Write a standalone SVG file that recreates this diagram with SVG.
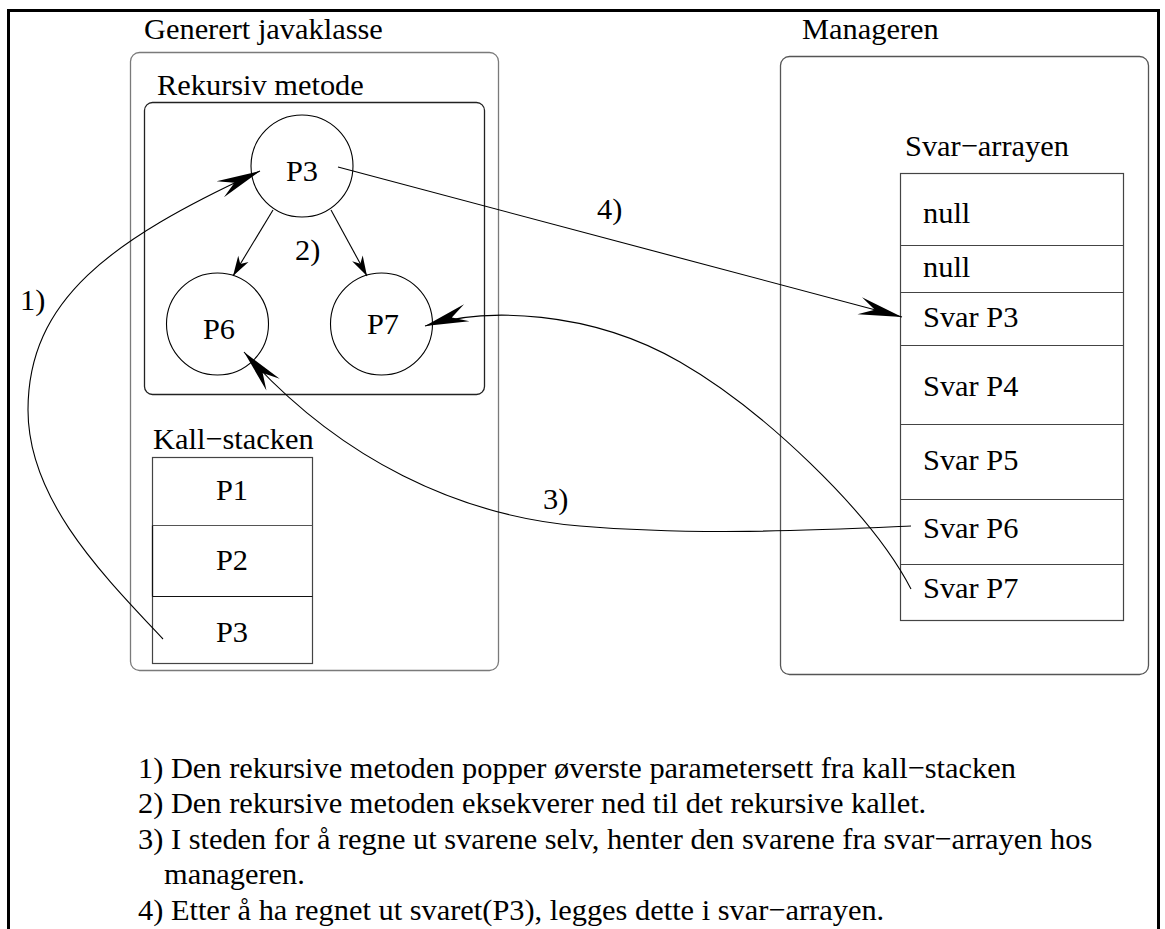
<svg xmlns="http://www.w3.org/2000/svg" width="1165" height="929" viewBox="0 0 1165 929" font-family="'Liberation Serif', 'Times New Roman', 'DejaVu Serif', serif">
  <style>
    text { font-family: 'Liberation Serif', 'Times New Roman', 'DejaVu Serif', serif; font-size: 30.4px; fill: #000; }
    .mid { text-anchor: middle; }
    .box { fill: none; stroke-width: 1.3; }
    .cell { fill: none; stroke: #444; stroke-width: 1.2; }
    .node { fill: #fff; stroke: #000; stroke-width: 1.1; }
    .link { fill: none; stroke: #000; stroke-width: 1.1; }
  </style>
  <defs>
    <marker id="dart" markerUnits="userSpaceOnUse" markerWidth="50" markerHeight="30" viewBox="-44 -12 48 24" refX="0" refY="0" orient="auto">
      <path d="M0,0 L-42,-8.5 L-27,0 L-42,8.5 Z" fill="#000"/>
    </marker>
    <marker id="dart-small" markerUnits="userSpaceOnUse" markerWidth="26" markerHeight="16" viewBox="-22 -8 24 16" refX="0" refY="0" orient="auto">
      <path d="M0,0 L-20,-6 L-14,0 L-20,6 Z" fill="#000"/>
    </marker>
  </defs>

  <rect width="1165" height="929" fill="#fff"/>

  <!-- page frame, open at the bottom -->
  <path d="M8.5,929 V10.5 H1158.5 V929" fill="none" stroke="#000" stroke-width="3"/>

  <!-- generated Java class -->
  <g id="javaklasse">
    <text x="144" y="39">Generert javaklasse</text>
    <rect class="box" x="130.5" y="52.5" width="368" height="618" rx="9" stroke="#7a7a7a"/>
  </g>

  <g id="rekursiv-metode">
    <text x="157" y="95">Rekursiv metode</text>
    <rect class="box" x="144.5" y="102.5" width="340" height="292" rx="8" stroke="#222"/>
  </g>

  <g id="node-p3">
    <circle class="node" cx="302" cy="166" r="51"/>
    <text class="mid" x="302" y="181">P3</text>
  </g>
  <g id="node-p6">
    <circle class="node" cx="217.5" cy="324" r="51"/>
    <text class="mid" x="219" y="339">P6</text>
  </g>
  <g id="node-p7">
    <circle class="node" cx="381.5" cy="324" r="51"/>
    <text class="mid" x="383" y="334">P7</text>
  </g>

  <!-- call stack -->
  <g id="kall-stacken">
    <text x="153" y="449">Kall−stacken</text>
    <rect class="cell" x="152.5" y="457.5" width="160" height="206"/>
    <line x1="152.5" y1="525.5" x2="312.5" y2="525.5" stroke="#555" stroke-width="1.2"/>
    <line x1="152.5" y1="596.5" x2="312.5" y2="596.5" stroke="#111" stroke-width="1.2"/>
    <line x1="152.5" y1="525.5" x2="152.5" y2="596.5" stroke="#111" stroke-width="1.2"/>
    <text class="mid" x="232" y="500">P1</text>
    <text class="mid" x="232" y="570">P2</text>
    <text class="mid" x="232" y="642">P3</text>
  </g>

  <!-- manager side -->
  <g id="manageren">
    <text x="802" y="39">Manageren</text>
    <rect class="box" x="780.5" y="56.5" width="368" height="618" rx="9" stroke="#555"/>
  </g>

  <g id="svar-arrayen">
    <text x="905" y="156">Svar−arrayen</text>
    <rect class="cell" x="900.5" y="173.5" width="223" height="447"/>
    <line class="cell" x1="900.5" y1="245.5" x2="1123.5" y2="245.5"/>
    <line class="cell" x1="900.5" y1="292.5" x2="1123.5" y2="292.5"/>
    <line class="cell" x1="900.5" y1="345.5" x2="1123.5" y2="345.5"/>
    <line class="cell" x1="900.5" y1="424.5" x2="1123.5" y2="424.5"/>
    <line class="cell" x1="900.5" y1="499.5" x2="1123.5" y2="499.5"/>
    <line class="cell" x1="900.5" y1="564.5" x2="1123.5" y2="564.5"/>
    <text x="923" y="223">null</text>
    <text x="923" y="277">null</text>
    <text x="923" y="327">Svar P3</text>
    <text x="923" y="396">Svar P4</text>
    <text x="923" y="470">Svar P5</text>
    <text x="923" y="538">Svar P6</text>
    <text x="923" y="598">Svar P7</text>
  </g>

  <!-- connectors -->
  <g id="connectors">
    <!-- 1) pop from call stack into P3 -->
    <path class="link" d="M163,639 C103,575 28,500 28,410 C28,300 110,240 260,171" marker-end="url(#dart)"/>
    <!-- 2) recursive calls -->
    <line class="link" x1="273" y1="210" x2="233" y2="276" marker-end="url(#dart-small)"/>
    <line class="link" x1="331" y1="210" x2="367" y2="276" marker-end="url(#dart-small)"/>
    <!-- 3) answers fetched from the array -->
    <path class="link" d="M911,526 C820,530 700,536 580,526 C460,516 340,460 244,352" marker-end="url(#dart)"/>
    <path class="link" d="M911,589 C870,510 760,408 680,362 C590,310 485,307 425,326" marker-end="url(#dart)"/>
    <!-- 4) result stored in the array -->
    <line class="link" x1="338" y1="167" x2="902" y2="317" marker-end="url(#dart)"/>
  </g>

  <g id="step-labels">
    <text x="20" y="310">1)</text>
    <text x="295" y="260">2)</text>
    <text x="543" y="509">3)</text>
    <text x="597" y="219">4)</text>
  </g>

  <!-- legend -->
  <g id="legend">
    <text x="138" y="778">1) Den rekursive metoden popper øverste parametersett fra kall−stacken</text>
    <text x="138" y="813">2) Den rekursive metoden eksekverer ned til det rekursive kallet.</text>
    <text x="138" y="849">3) I steden for å regne ut svarene selv, henter den svarene fra svar−arrayen hos</text>
    <text x="164" y="884">manageren.</text>
    <text x="138" y="920">4) Etter å ha regnet ut svaret(P3), legges dette i svar−arrayen.</text>
  </g>
</svg>
